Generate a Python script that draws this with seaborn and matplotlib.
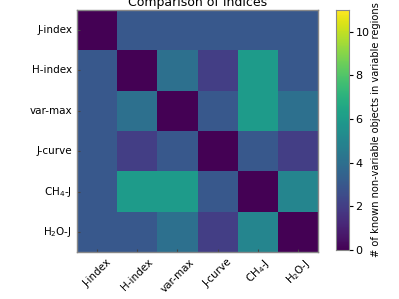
import numpy as np
import pandas as pd
import matplotlib
matplotlib.use("Agg")
import matplotlib.pyplot as plt
import seaborn as sns

# index names (same order on both axes)
indices = ["J-index", "H-index", "var-max", "J-curve", "CH$_4$-J", "H$_2$O-J"]

# number of known non-variable objects in variable regions (pairwise)
row_jindex = [0, 3, 3, 3, 3, 3]
row_hindex = [3, 0, 4, 2, 6, 3]
row_varmax = [3, 4, 0, 3, 6, 4]
row_jcurve = [3, 2, 3, 0, 3, 2]
row_ch4j = [3, 6, 6, 3, 0, 5]
row_h2oj = [3, 3, 4, 2, 5, 0]

df = pd.DataFrame([row_jindex, row_hindex, row_varmax, row_jcurve, row_ch4j, row_h2oj],
                  index=indices, columns=indices)

fig = plt.figure(figsize=(3.99, 2.99), dpi=100)
ax = fig.add_axes([0.193, 0.157, 0.604, 0.81])
cax = fig.add_axes([0.842, 0.164, 0.033, 0.803])

sns.heatmap(df, ax=ax, cbar_ax=cax, cmap="viridis", vmin=0, vmax=11,
            square=False, cbar_kws={"ticks": [0, 2, 4, 6, 8, 10]})

ax.set_title("Comparison of Indices", fontsize=9, pad=3)
ax.set_xticklabels(indices, rotation=45, ha="center", fontsize=7.5)
ax.set_yticklabels(indices, rotation=0, fontsize=7.5)
ax.tick_params(axis="both", direction="in", length=2, color="#444444")
for s in ax.spines.values():
    s.set_visible(True)
    s.set_color("#888888")
    s.set_linewidth(1.0)

cax.tick_params(labelsize=8, length=3, pad=1.5)
cax.set_ylabel("# of known non-variable objects in variable regions", fontsize=7.1, labelpad=1)
for s in cax.spines.values():
    s.set_visible(True)
    s.set_color("#888888")

fig.savefig("out.png", dpi=100)
